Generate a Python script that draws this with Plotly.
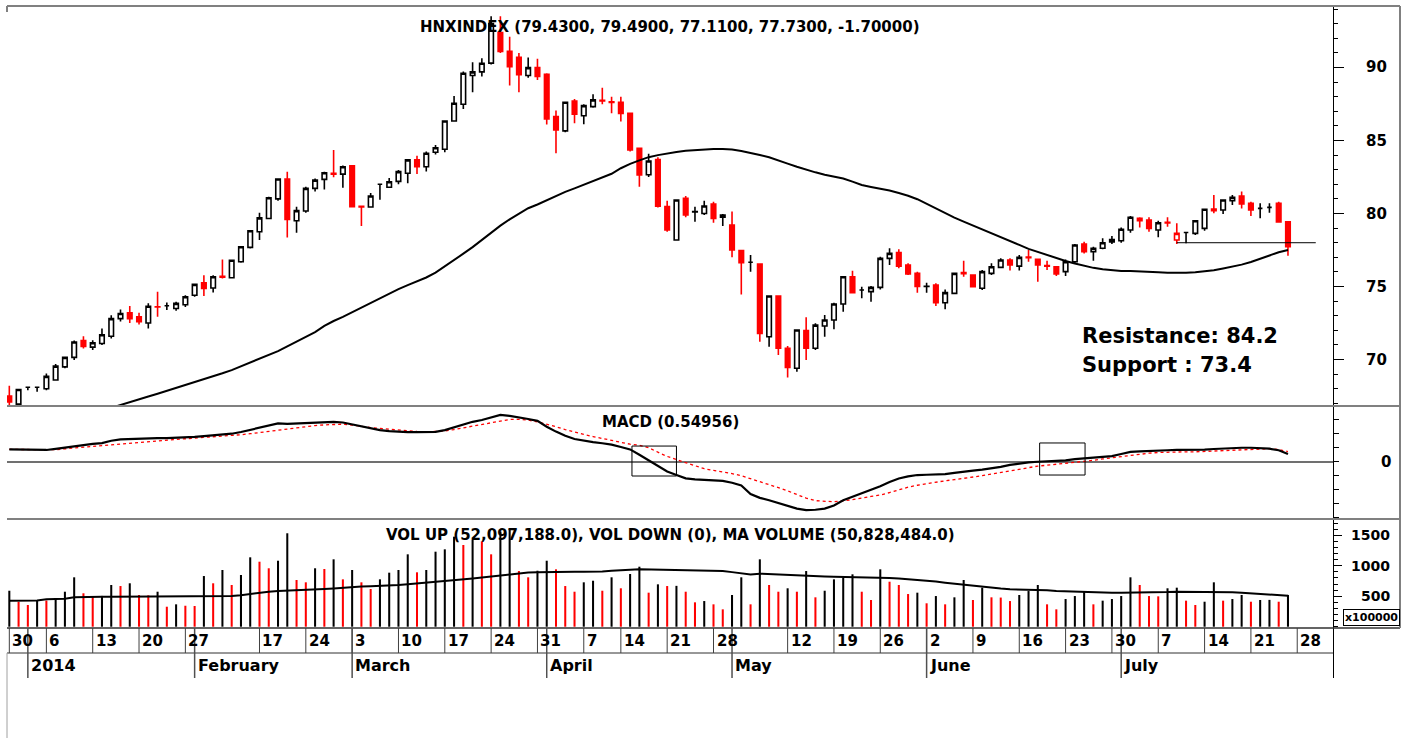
import plotly.graph_objects as go

# ---------------- data ----------------
title_text = "HNXINDEX (79.4300, 79.4900, 77.1100, 77.7300, -1.70000)"
macd_title = "MACD (0.54956)"
vol_title = "VOL UP (52,097,188.0), VOL DOWN (0), MA VOLUME (50,828,484.0)"

open_ = [67.5, 66.95, 68.1, 68.1, 68.0, 68.6, 69.5, 70.15, 71.3, 70.85,
         71.1, 71.6, 72.8, 73.2, 72.93, 72.5, 73.62, 73.68, 73.5, 73.75,
         74.4, 75.25, 74.9, 75.7, 75.6, 76.7, 77.68, 78.75, 79.66, 81.0,
         82.36, 79.5, 80.17, 81.72, 82.34, 82.75, 82.7, 83.26, 80.5, 80.45,
         82.0, 81.8, 82.2, 82.76, 83.67, 83.2, 84.2, 84.4, 86.34, 87.48,
         89.45, 89.7, 90.3, 92.4, 91.1, 90.7, 89.45, 90.0, 89.54, 86.64,
         85.66, 87.71, 86.7, 87.32, 87.75, 87.65, 87.62, 86.86, 84.47, 82.65,
         83.7, 80.47, 78.19, 81.04, 80.13, 80.0, 80.65, 79.74, 79.21, 77.46,
         76.66, 76.54, 71.56, 74.35, 70.77, 69.4, 71.98, 70.77, 72.3, 72.71,
         73.8, 75.67, 74.76, 74.65, 74.94, 76.93, 77.32, 76.47, 75.9, 75.0,
         75.1, 73.89, 74.53, 75.95, 75.79, 74.88, 75.9, 76.31, 76.82, 76.4,
         77.02, 76.86, 76.43, 76.36, 76.02, 76.7, 77.91, 77.39, 77.62, 78.22,
         78.14, 78.87, 79.67, 79.56, 78.87, 79.4, 78.19, 78.7, 78.64, 78.98,
         80.3, 80.24, 80.88, 81.2, 80.7, 80.35, 80.42, 80.7, 79.43]
high = [68.2, 68.0, 68.15, 68.15, 69.05, 69.7, 70.2, 71.3, 71.6, 71.33,
        72.13, 73.04, 73.43, 73.66, 73.2, 73.85, 74.64, 73.9, 73.95, 74.4,
        75.2, 75.78, 75.78, 76.86, 76.86, 77.77, 78.87, 80.05, 81.15, 82.4,
        82.86, 80.46, 81.83, 82.4, 82.86, 84.35, 83.28, 83.3, 80.5, 81.4,
        82.05, 82.44, 82.98, 83.74, 83.96, 84.24, 84.7, 86.35, 88.05, 89.72,
        90.36, 90.63, 93.5, 93.5, 92.1, 91.0, 90.68, 90.6, 89.6, 87.05,
        87.66, 87.85, 87.48, 88.17, 88.62, 88.0, 88.0, 86.9, 84.51, 84.1,
        83.85, 80.88, 80.97, 81.2, 80.47, 80.88, 80.81, 79.97, 80.13, 77.5,
        77.16, 76.6, 74.4, 74.4, 70.93, 72.05, 72.89, 72.48, 73.05, 73.89,
        75.72, 76.08, 74.99, 75.03, 77.04, 77.62, 77.55, 76.59, 76.02, 75.26,
        75.22, 74.8, 75.95, 76.77, 75.85, 76.13, 76.59, 76.93, 76.93, 77.16,
        77.5, 76.9, 76.77, 76.4, 76.86, 77.91, 78.07, 77.73, 78.3, 78.46,
        79.05, 79.83, 79.74, 79.74, 79.51, 79.74, 79.33, 78.75, 79.56, 80.35,
        81.27, 80.97, 81.27, 81.5, 80.81, 80.7, 80.7, 80.81, 79.49]
low = [66.77, 66.9, 67.9, 67.8, 67.9, 68.55, 69.4, 69.97, 70.75, 70.65,
       70.99, 71.45, 72.6, 72.5, 72.4, 72.13, 72.93, 73.4, 73.34, 73.6,
       74.3, 74.35, 74.6, 75.55, 75.55, 76.63, 77.6, 78.18, 79.6, 80.87,
       78.36, 78.68, 80.05, 81.5, 81.65, 82.48, 81.77, 80.45, 79.15, 80.4,
       80.95, 81.74, 82.0, 82.07, 82.7, 82.87, 84.05, 84.2, 86.3, 87.16,
       88.3, 89.38, 90.2, 91.0, 88.76, 88.3, 89.3, 89.15, 86.1, 84.13,
       85.56, 86.18, 86.11, 87.25, 87.48, 86.86, 86.3, 84.24, 81.84, 82.5,
       80.42, 78.76, 78.14, 79.74, 79.44, 79.9, 79.37, 79.14, 77.0, 74.46,
       76.02, 71.22, 70.88, 70.31, 68.78, 69.17, 69.97, 70.65, 71.56, 72.07,
       73.28, 74.53, 74.19, 73.96, 74.8, 76.47, 76.25, 75.79, 74.58, 74.58,
       73.66, 73.44, 74.49, 75.67, 74.94, 74.76, 75.79, 76.25, 76.09, 76.09,
       76.7, 75.33, 76.13, 75.72, 75.72, 76.59, 77.27, 76.77, 77.55, 77.91,
       78.0, 78.69, 79.05, 78.76, 78.37, 79.1, 77.91, 77.96, 78.53, 78.82,
       80.01, 79.97, 80.58, 80.35, 79.83, 79.67, 80.06, 79.37, 77.11]
close = [67.1, 67.95, 68.1, 68.1, 68.85, 69.55, 70.15, 71.2, 70.9, 71.15,
         71.7, 72.8, 73.15, 72.8, 72.6, 73.65, 73.6, 73.68, 73.85, 74.3,
         75.15, 74.87, 75.67, 75.64, 76.8, 77.72, 78.82, 79.7, 81.08, 82.36,
         79.6, 80.2, 81.72, 82.29, 82.79, 82.7, 83.2, 80.47, 80.45, 81.2,
         82.0, 82.18, 82.87, 83.67, 83.2, 84.13, 84.5, 86.34, 87.55, 89.6,
         89.7, 90.29, 93.0, 91.1, 90.06, 89.5, 89.99, 89.38, 86.48, 85.72,
         87.62, 86.8, 87.39, 87.78, 87.7, 87.6, 86.86, 84.35, 82.64, 83.6,
         80.5, 78.87, 80.93, 79.9, 80.1, 80.51, 79.67, 79.9, 77.5, 76.63,
         76.66, 71.79, 74.35, 70.77, 69.46, 72.02, 70.77, 72.36, 72.71, 73.8,
         75.67, 74.58, 74.76, 74.94, 76.93, 77.27, 76.4, 75.86, 75.0, 75.02,
         73.89, 74.58, 75.9, 75.88, 74.99, 76.02, 76.36, 76.82, 76.47, 77.0,
         76.98, 76.47, 76.4, 75.86, 76.7, 77.84, 77.39, 77.62, 78.0, 78.05,
         78.92, 79.74, 79.51, 78.98, 79.37, 79.35, 78.64, 78.7, 79.51, 80.29,
         80.2, 80.93, 81.11, 80.65, 80.24, 80.35, 80.42, 79.43, 77.73]
# volume in units of 100,000 shares
volume = [590, 410, 356, 438, 430, 440, 574, 810, 548, 503,
          505, 684, 667, 712, 520, 515, 574, 328, 367, 344,
          340, 831, 712, 930, 684, 848, 1138, 1066, 958, 1082,
          1532, 766, 728, 958, 946, 1105, 777, 930, 728, 618,
          777, 886, 930, 1187, 892, 930, 1230, 1269, 1476, 1340,
          1422, 1400, 1187, 1560, 1600, 913, 810, 918, 1082, 941,
          667, 574, 728, 754, 590, 810, 630, 864, 984, 558,
          695, 667, 670, 574, 400, 421, 367, 285, 520, 810,
          367, 1105, 684, 574, 630, 574, 913, 482, 590, 777,
          804, 859, 574, 438, 941, 738, 684, 536, 558, 384,
          503, 367, 482, 766, 438, 640, 482, 478, 421, 520,
          585, 684, 367, 285, 454, 503, 585, 367, 427, 454,
          503, 810, 684, 503, 498, 630, 640, 427, 356, 410,
          728, 427, 454, 520, 410, 438, 440, 410, 521]
ma_price = [None] * 10 + [
    66.5, 66.7, 66.92, 67.12, 67.3, 67.47, 67.66, 67.86, 68.04, 68.22,
    68.42, 68.63, 68.84, 69.06, 69.28, 69.53, 69.78, 70.04, 70.3, 70.58,
    70.9, 71.24, 71.56, 71.88, 72.3, 72.64, 72.92, 73.24, 73.55, 73.87,
    74.2, 74.5, 74.82, 75.1, 75.36, 75.62, 75.95, 76.37, 76.8, 77.25,
    77.7, 78.2, 78.72, 79.17, 79.6, 80.0, 80.36, 80.62, 80.92, 81.22,
    81.48, 81.72, 81.98, 82.22, 82.45, 82.72, 83.1, 83.4, 83.64, 83.86,
    84.0, 84.12, 84.22, 84.3, 84.35, 84.39, 84.41, 84.41, 84.38, 84.28,
    84.16, 84.01, 83.85, 83.66, 83.42, 83.2, 83.0, 82.82, 82.66, 82.53,
    82.4, 82.18, 81.95, 81.82, 81.7, 81.57, 81.4, 81.22, 80.98, 80.66,
    80.33, 80.02, 79.72, 79.44, 79.18, 78.92, 78.67, 78.42, 78.14, 77.85,
    77.58, 77.36, 77.18, 76.95, 76.75, 76.58, 76.42, 76.28, 76.18, 76.1,
    76.06, 76.06, 76.05, 76.02, 75.98, 75.95, 75.94, 75.94, 75.98, 76.03,
    76.12, 76.24, 76.36, 76.5, 76.68, 76.9, 77.12, 77.35, 77.5]
macd = [0.88, 0.87, 0.86, 0.85, 0.84, 0.92, 1.02, 1.12, 1.2, 1.27,
        1.33, 1.5, 1.6, 1.63, 1.66, 1.67, 1.68, 1.69, 1.71, 1.74,
        1.78, 1.83, 1.88, 1.95, 2.0, 2.12, 2.28, 2.45, 2.62, 2.74,
        2.70, 2.72, 2.77, 2.8, 2.82, 2.84, 2.80, 2.66, 2.5, 2.36,
        2.26, 2.18, 2.13, 2.12, 2.12, 2.12, 2.13, 2.26, 2.47, 2.69,
        2.85, 2.98, 3.18, 3.34, 3.27, 3.18, 3.05, 2.92, 2.5, 2.15,
        1.85, 1.62, 1.5, 1.4, 1.32, 1.22, 1.05, 0.88, 0.5, 0.12,
        -0.3, -0.7, -0.95, -1.19, -1.26, -1.3, -1.34, -1.37, -1.5, -1.7,
        -2.3, -2.58, -2.75, -2.95, -3.2, -3.35, -3.45, -3.43, -3.35, -3.12,
        -2.75, -2.5, -2.28, -2.0, -1.75, -1.45, -1.2, -1.05, -0.95, -0.93,
        -0.91, -0.89, -0.8, -0.7, -0.63, -0.56, -0.49, -0.37, -0.22, -0.11,
        -0.05, 0.0, 0.02, 0.04, 0.1, 0.18, 0.24, 0.28, 0.33, 0.4,
        0.55, 0.7, 0.74, 0.78, 0.8, 0.82, 0.84, 0.84, 0.84, 0.87,
        0.91, 0.95, 0.97, 1.0, 1.0, 0.97, 0.93, 0.82, 0.55]
signal = [0.88, 0.87, 0.86, 0.85, 0.84, 0.86, 0.92, 0.98, 1.04, 1.1,
          1.16, 1.22, 1.28, 1.34, 1.39, 1.44, 1.5, 1.55, 1.6, 1.64,
          1.68, 1.72, 1.76, 1.8, 1.86, 1.93, 2.0, 2.08, 2.18, 2.28,
          2.37, 2.45, 2.52, 2.58, 2.63, 2.67, 2.68, 2.62, 2.52, 2.44,
          2.38, 2.32, 2.26, 2.2, 2.16, 2.14, 2.15, 2.19, 2.3, 2.42,
          2.55, 2.67, 2.79, 2.92, 3.02, 3.03, 2.97, 2.85, 2.7, 2.5,
          2.3, 2.1, 1.95, 1.8, 1.65, 1.5, 1.35, 1.25, 1.18, 1.0,
          0.68, 0.38, 0.15, -0.08, -0.3, -0.5, -0.62, -0.71, -0.85, -1.0,
          -1.2, -1.45, -1.65, -1.85, -2.08, -2.35, -2.6, -2.78, -2.84, -2.86,
          -2.8, -2.72, -2.6, -2.48, -2.38, -2.2, -2.0, -1.82, -1.68, -1.56,
          -1.46, -1.36, -1.28, -1.2, -1.12, -1.0, -0.88, -0.76, -0.64, -0.52,
          -0.42, -0.31, -0.25, -0.19, -0.12, -0.06, 0.0, 0.1, 0.2, 0.28,
          0.38, 0.48, 0.55, 0.61, 0.66, 0.69, 0.71, 0.71, 0.71, 0.74,
          0.77, 0.8, 0.84, 0.88, 0.91, 0.93, 0.93, 0.88, 0.72]
vol_ma = [427, 427, 427, 430, 449, 455, 460, 482, 488, 492,
          492, 492, 492, 492, 492, 492, 492, 492, 492, 492,
          492, 495, 498, 500, 503, 515, 536, 556, 575, 585,
          590, 595, 600, 610, 620, 628, 640, 654, 660, 664,
          667, 675, 684, 695, 708, 718, 730, 740, 755, 772,
          790, 805, 820, 845, 862, 875, 888, 893, 898, 902,
          902, 902, 902, 902, 904, 918, 930, 936, 941, 938,
          935, 932, 930, 928, 925, 925, 920, 915, 895, 878,
          855, 870, 862, 852, 848, 840, 832, 828, 824, 820,
          818, 816, 814, 812, 810, 800, 792, 780, 770, 760,
          740, 722, 705, 685, 667, 650, 632, 625, 614, 612,
          612, 610, 598, 586, 580, 576, 574, 566, 560, 558,
          558, 558, 558, 558, 560, 568, 574, 574, 574, 574,
          574, 570, 565, 555, 545, 536, 530, 520, 508]

# date axis (trading-day index of each labelled date)
day_tick_idx = [0, 4, 9, 14, 19, 27, 32, 37, 42, 47, 52, 57, 62, 66, 71, 76,
                84, 89, 94, 99, 104, 109, 114, 119, 124, 129, 134, 139]
day_tick_text = ["30", "6", "13", "20", "27", "17", "24", "3", "10", "17", "24",
                 "31", "7", "14", "21", "28", "12", "19", "26", "2", "9", "16",
                 "23", "30", "7", "14", "21", "28"]
month_idx = [2, 20, 37, 58, 78, 99, 120]
month_text = ["2014", "February", "March", "April", "May", "June", "July"]

price_ticks = [70, 75, 80, 85, 90]
price_ticktext = ["70", "75", "80", "85", "90"]
macd_tickvals = [-4, -3, -2, -1, 0, 1, 2, 3]
macd_label_vals = [0]
macd_label_text = ["0"]
vol_tickvals = [500, 1000, 1500]
vol_ticktext = ["500", "1000", "1500"]

support_level = 78.0
support_span = [126, 141]
macd_boxes = [(67.2, 72.0, -1.02, 1.12), (111.2, 116.1, -0.95, 1.34)]
notes = ["Resistance: 84.2", "Support : 73.4"]

# ---------------- figure ----------------
FONT = "DejaVu Sans"
RED = "#ff0000"
n = len(close)
xs = list(range(n))

is_red = [(close[i] < close[i - 1]) if i > 0 else (close[i] < open_[i]) for i in range(n)]


def pick(arr, flag):
    return [arr[i] for i in range(n) if is_red[i] == flag]


fig = go.Figure()

for flag, col in [(False, "black"), (True, RED)]:
    fig.add_trace(go.Candlestick(
        x=pick(xs, flag), open=pick(open_, flag), high=pick(high, flag),
        low=pick(low, flag), close=pick(close, flag),
        increasing=dict(line=dict(color=col, width=1.6), fillcolor="white"),
        decreasing=dict(line=dict(color=col, width=1.6), fillcolor=col),
        whiskerwidth=0, showlegend=False, xaxis="x", yaxis="y"))

fig.add_trace(go.Scatter(x=xs, y=ma_price, mode="lines",
                         line=dict(color="black", width=2), xaxis="x", yaxis="y"))
fig.add_trace(go.Scatter(x=support_span, y=[support_level, support_level], mode="lines",
                         line=dict(color="black", width=1), xaxis="x", yaxis="y"))

fig.add_trace(go.Scatter(x=xs, y=signal, mode="lines",
                         line=dict(color=RED, width=1.3, dash="dot"), xaxis="x", yaxis="y2"))
fig.add_trace(go.Scatter(x=xs, y=macd, mode="lines",
                         line=dict(color="black", width=2.2), xaxis="x", yaxis="y2"))

vol_colors = ["black" if (i == 0 or volume[i] >= volume[i - 1]) else RED for i in range(n)]
fig.add_trace(go.Bar(x=xs, y=volume, width=0.22, marker=dict(color=vol_colors, line=dict(width=0)),
                     xaxis="x", yaxis="y3"))
fig.add_trace(go.Scatter(x=xs, y=vol_ma, mode="lines",
                         line=dict(color="black", width=2), xaxis="x", yaxis="y3"))
fig.add_trace(go.Scatter(x=[], y=[], xaxis="x", yaxis="y4"))

# layout in pixels of the plot area (672 px tall, 1326 px wide)
H = 672.0
W = 1326.0


def py(ypx):
    return (678 - ypx) / H


def px(xpx):
    return (xpx - 7) / W


d_date = [0, 50 / H]
d_vol = [50 / H, 159 / H]
d_macd = [159 / H, 272 / H]
d_price = [272 / H, 1]

common_y = dict(anchor="x", side="right", showgrid=False, showline=True, linecolor="black",
                linewidth=1, ticks="outside", tickcolor="black", tickwidth=1, fixedrange=True,
                showticklabels=False)

fig.update_layout(
    template="none",
    width=1407, height=738,
    margin=dict(l=7, r=74, t=6, b=60, autoexpand=False),
    paper_bgcolor="white", plot_bgcolor="white",
    showlegend=False, hovermode=False,
    boxgap=0.3,
    font=dict(family=FONT, size=15, color="black"),
    xaxis=dict(domain=[0, 1], range=[-0.25, 142.86], anchor="y4", showticklabels=False,
               ticks="", showgrid=False, zeroline=False, showline=False,
               rangeslider=dict(visible=False), fixedrange=True),
    yaxis=dict(domain=d_price, range=[66.82, 94.21], tickvals=price_ticks, ticklen=10,
               zeroline=False,
               minor=dict(tickmode="linear", tick0=0, dtick=1, ticklen=4, ticks="outside",
                          tickcolor="black"),
               **common_y),
    yaxis2=dict(domain=d_macd, range=[-4.09, 3.98], tickvals=macd_tickvals, ticklen=5,
                zeroline=True, zerolinecolor="#707070", zerolinewidth=1.5, **common_y),
    yaxis3=dict(domain=d_vol, range=[-21, 1766], tickvals=vol_tickvals, ticklen=8,
                zeroline=False,
                minor=dict(tickmode="linear", tick0=0, dtick=100, ticklen=4, ticks="outside",
                           tickcolor="black"),
                **common_y),
    yaxis4=dict(domain=d_date, range=[0, 2], anchor="x", side="right", showticklabels=False,
                ticks="", showgrid=False, zeroline=False, showline=True, linecolor="black",
                fixedrange=True),
)

shapes = []
GRAY = "#808080"
for yy in [1.0, d_price[0], d_macd[0]]:
    shapes.append(dict(type="line", xref="paper", yref="paper", x0=0, x1=px(1400), y0=yy, y1=yy,
                       line=dict(color=GRAY, width=2)))
shapes.append(dict(type="line", xref="paper", yref="paper", x0=0, x1=px(1400), y0=d_vol[0],
                   y1=d_vol[0], line=dict(color="#303030", width=1.5)))
shapes.append(dict(type="line", xref="paper", yref="paper", x0=px(1400), x1=px(1400),
                   y0=d_vol[0], y1=1.0, line=dict(color=GRAY, width=2)))
shapes.append(dict(type="line", xref="paper", yref="paper", x0=0, x1=0, y0=1.0, y1=py(12),
                   line=dict(color=GRAY, width=2)))
shapes.append(dict(type="line", xref="paper", yref="y4", x0=0, x1=1, y0=1, y1=1,
                   line=dict(color="#303030", width=1)))
shapes.append(dict(type="line", xref="paper", yref="paper", x0=0, x1=0, y0=py(653), y1=py(738),
                   line=dict(color="#a0a0a0", width=1)))
for xi in day_tick_idx:
    shapes.append(dict(type="line", xref="x", yref="y4", x0=xi, x1=xi, y0=1, y1=2,
                       line=dict(color="#404040", width=1)))
for xi in month_idx:
    shapes.append(dict(type="line", xref="x", yref="y4", x0=xi, x1=xi, y0=0, y1=2,
                       line=dict(color="#505050", width=1.5)))
for (xa, xb, ya, yb) in macd_boxes:
    shapes.append(dict(type="rect", xref="x", yref="y2", x0=xa, x1=xb, y0=ya, y1=yb,
                       line=dict(color="black", width=1), fillcolor="rgba(0,0,0,0)"))
fig.update_layout(shapes=shapes)


def bold(s):
    return dict(family=FONT, size=s, color="black", weight="bold")


ann = []
ann.append(dict(text=title_text, xref="paper", yref="paper", x=0.5, y=py(27), showarrow=False,
                xanchor="center", yanchor="middle", font=bold(15)))
ann.append(dict(text=macd_title, xref="paper", yref="paper", x=0.5, y=py(421.5), showarrow=False,
                xanchor="center", yanchor="middle", font=bold(15)))
ann.append(dict(text=vol_title, xref="paper", yref="paper", x=0.5, y=py(535), showarrow=False,
                xanchor="center", yanchor="middle", font=bold(15)))
ann.append(dict(text=notes[0], xref="paper", yref="paper", x=px(1080), y=py(336), showarrow=False,
                xanchor="left", yanchor="middle", font=bold(21)))
ann.append(dict(text=notes[1], xref="paper", yref="paper", x=px(1080), y=py(365), showarrow=False,
                xanchor="left", yanchor="middle", font=bold(21)))
ann.append(dict(text="x100000", xref="paper", yref="paper", x=px(1400), y=py(617.5),
                showarrow=False, xanchor="right", yanchor="middle", font=bold(11),
                bordercolor="black", borderwidth=1, borderpad=1, bgcolor="white"))
# right-aligned axis value labels, positioned through each y axis
for v, t in zip(price_ticks, price_ticktext):
    ann.append(dict(text=t, xref="paper", yref="y", x=px(1389), y=v, showarrow=False,
                    xanchor="right", yanchor="middle", font=bold(15)))
for v, t in zip(macd_label_vals, macd_label_text):
    ann.append(dict(text=t, xref="paper", yref="y2", x=px(1393), y=v, showarrow=False,
                    xanchor="right", yanchor="middle", font=bold(15)))
for v, t in zip(vol_tickvals, vol_ticktext):
    ann.append(dict(text=t, xref="paper", yref="y3", x=px(1392), y=v, showarrow=False,
                    xanchor="right", yanchor="middle", font=bold(14)))
for xi, t in zip(day_tick_idx, day_tick_text):
    ann.append(dict(text=t, xref="x", yref="y4", x=xi, y=1.5, showarrow=False, xanchor="left",
                    yanchor="middle", xshift=1, font=bold(15)))
for xi, t in zip(month_idx, month_text):
    ann.append(dict(text=t, xref="x", yref="y4", x=xi, y=0.5, showarrow=False, xanchor="left",
                    yanchor="middle", xshift=1, font=bold(16)))
fig.update_layout(annotations=ann)

fig.write_html("out.html", config={"displayModeBar": False},
               post_script="document.body.style.margin='0px';")
